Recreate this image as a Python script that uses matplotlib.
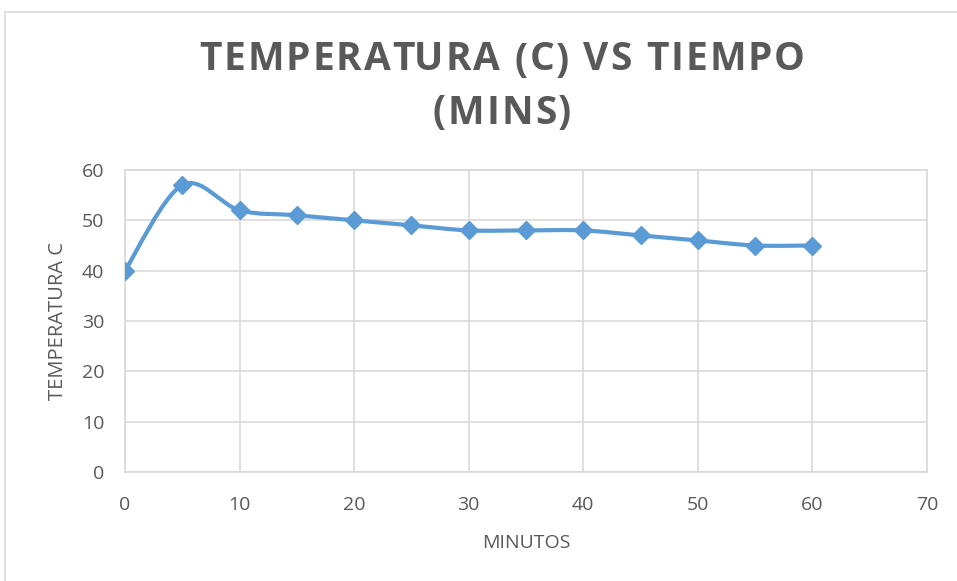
import numpy as np
import matplotlib
matplotlib.use('Agg')
import matplotlib.pyplot as plt
from matplotlib.path import Path
from matplotlib.patches import PathPatch, Rectangle

matplotlib.rcParams['font.family'] = 'Open Sans'

minutos = [0, 5, 10, 15, 20, 25, 30, 35, 40, 45, 50, 55, 60]
temperatura = [40, 57, 52, 51, 50, 49, 48, 48, 48, 47, 46, 45, 45]

x_ticks = [0, 10, 20, 30, 40, 50, 60, 70]
y_ticks = [0, 10, 20, 30, 40, 50, 60]

title_lines = ['TEMPERATURA (C) VS TIEMPO', '(MINS)']

blue = '#5B9BD5'
gray_text = '#595959'
grid_col = '#D9D9D9'


def smooth_path(x, y):
    # Excel-like smoothed line: cubic bezier with catmull-rom style controls
    pts = np.column_stack([x, y]).astype(float)
    n = len(pts)
    verts = [pts[0]]
    codes = [Path.MOVETO]
    for i in range(n - 1):
        p_prev = pts[i - 1] if i > 0 else pts[i]
        p_next2 = pts[i + 2] if i + 2 < n else pts[i + 1]
        c1 = pts[i] + (pts[i + 1] - p_prev) / 6.0
        c2 = pts[i + 1] - (p_next2 - pts[i]) / 6.0
        verts += [c1, c2, pts[i + 1]]
        codes += [Path.CURVE4] * 3
    return Path(verts, codes)


def spaced_text(fig, xc, yc, s, spacing, **kw):
    # matplotlib has no letter spacing, so place glyphs one by one
    r = fig.canvas.get_renderer()
    W = fig.bbox.width

    def width(sub):
        t = fig.text(0, 0, sub + '|', **kw)
        w = t.get_window_extent(r).width
        t.remove()
        return w

    bar = width('')
    pre = [width(s[:i]) - bar for i in range(len(s) + 1)]
    total = pre[-1] + spacing * (len(s) - 1)
    x0 = xc * W - total / 2
    for i, ch in enumerate(s):
        if ch == ' ':
            continue
        fig.text((x0 + pre[i] + i * spacing) / W, yc, ch, ha='left',
                 va='center', **kw)


fig = plt.figure(figsize=(9.57, 5.81), dpi=100)
ax = fig.add_axes([125 / 957, 1 - 472 / 581, 802 / 957, 302 / 581])

ax.add_patch(PathPatch(smooth_path(minutos, temperatura), facecolor='none',
                       edgecolor=blue, lw=3.0, capstyle='round', zorder=3))
ax.plot(minutos, temperatura, linestyle='none', marker='D', markersize=9.5,
        color=blue, zorder=4)

ax.set_xlim(0, 70)
ax.set_ylim(0, 60)
ax.set_xticks(x_ticks)
ax.set_yticks(y_ticks)
ax.grid(True, color=grid_col, lw=1.2)
ax.set_axisbelow(True)
for s in ax.spines.values():
    s.set_color(grid_col)
    s.set_linewidth(1.2)
ax.tick_params(length=0, labelsize=14, labelcolor=gray_text)
ax.tick_params(axis='x', pad=17)
ax.tick_params(axis='y', pad=15)

ax.set_xlabel('MINUTOS', fontsize=14, color=gray_text, labelpad=15)
ax.set_ylabel('TEMPERATURA C', fontsize=14.5, color=gray_text, labelpad=10)

tkw = dict(fontsize=28, fontweight='bold', color=gray_text)
spaced_text(fig, 502 / 957, 1 - 60 / 581, title_lines[0], 2.0, **tkw)
spaced_text(fig, 502 / 957, 1 - 113 / 581, title_lines[1], 2.0, **tkw)

# chart border
fig.patches.append(Rectangle((5 / 957, -0.1), 1.2, 1 - 12 / 581 + 0.1,
                             transform=fig.transFigure, fill=False,
                             edgecolor=grid_col, lw=1.2))

plt.savefig('out.png', dpi=100)
